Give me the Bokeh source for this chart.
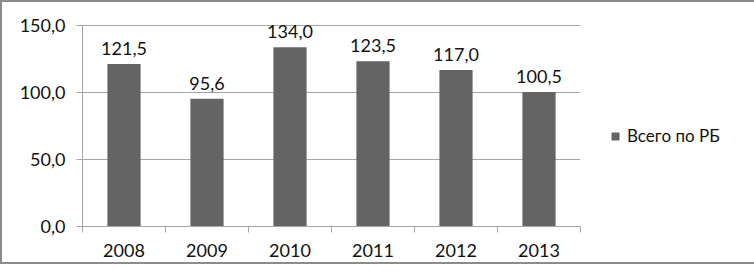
from bokeh.plotting import figure
from bokeh.models import (ColumnDataSource, FixedTicker, LabelSet, Legend, LegendItem,
                          Range1d)
from bokeh.core.properties import value
from bokeh.embed import file_html
from bokeh.resources import INLINE

years = ["2008", "2009", "2010", "2011", "2012", "2013"]
values = [121.5, 95.6, 134.0, 123.5, 117.0, 100.5]
series_name = "Всего по РБ"
y_ticks = [0, 50, 100, 150]

FONT = "Lato"
BAR = "#646464"
GRID = "#a6a6a6"
TXT = "#111111"

xs = [i + 0.5 for i in range(len(years))]
labels = [f"{v:.1f}".replace(".", ",") for v in values]
src = ColumnDataSource(dict(x=xs, top=values, label=labels))

p = figure(width=738, height=264, output_backend="svg", toolbar_location=None,
           x_range=Range1d(0, len(years)), y_range=Range1d(0, 160),
           frame_width=498, frame_height=214,
           min_border_left=80, min_border_right=156, min_border_top=10, min_border_bottom=36)
p.outline_line_color = None
p.styles = {"border": "2px solid #8c8c8c", "box-sizing": "border-box"}

r = p.vbar(x="x", top="top", width=0.4, source=src, fill_color=BAR, line_color=None)

p.add_layout(LabelSet(x="x", y="top", text="label", source=src, text_align="center",
                      text_baseline="bottom", y_offset=9, text_font=value(FONT),
                      text_font_size="18px", text_color=TXT))

# x axis
p.xaxis.ticker = FixedTicker(ticks=xs, minor_ticks=list(range(len(years) + 1)))
p.xaxis.major_label_overrides = {x: y for x, y in zip(xs, years)}
p.xaxis.major_tick_out = 0
p.xaxis.major_tick_in = 0
p.xaxis.minor_tick_out = 6
p.xaxis.minor_tick_in = 0
p.xaxis.minor_tick_line_color = GRID
p.xaxis.axis_line_color = GRID
p.xaxis.major_label_standoff = 11
p.xaxis.major_label_text_font = FONT
p.xaxis.major_label_text_font_size = "18px"
p.xaxis.major_label_text_color = TXT

# y axis
p.yaxis.ticker = FixedTicker(ticks=y_ticks, minor_ticks=[])
p.yaxis.bounds = (0, 150)
p.yaxis.major_label_overrides = {t: f"{t:.1f}".replace(".", ",") for t in y_ticks}
p.yaxis.major_tick_out = 6
p.yaxis.major_tick_in = 0
p.yaxis.major_tick_line_color = GRID
p.yaxis.axis_line_color = GRID
p.yaxis.minor_tick_line_color = None
p.yaxis.major_label_standoff = 11
p.yaxis.major_label_text_font = FONT
p.yaxis.major_label_text_font_size = "18px"
p.yaxis.major_label_text_color = TXT

p.xgrid.grid_line_color = None
p.ygrid.grid_line_color = GRID
p.ygrid.ticker = FixedTicker(ticks=y_ticks)

legend = Legend(items=[LegendItem(label=series_name, renderers=[r])],
                location=(30, 80), border_line_color=None, background_fill_alpha=0,
                padding=0, margin=0, glyph_width=10, glyph_height=10, label_standoff=7,
                label_text_font=FONT, label_text_font_size="17px", label_text_color=TXT)
p.add_layout(legend, "right")

open("out.html", "w").write(file_html(p, INLINE))
